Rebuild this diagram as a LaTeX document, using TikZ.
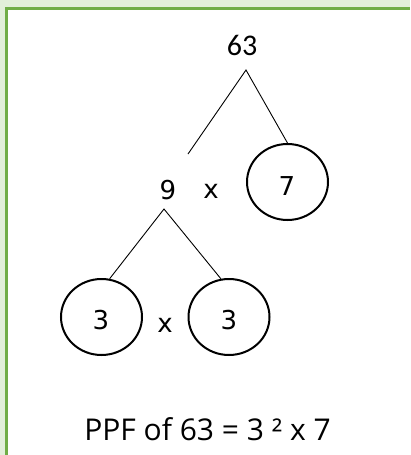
\documentclass[tikz,border=0pt]{standalone}
\usepackage{fontspec}
\usetikzlibrary{shapes.geometric}
\newfontfamily\numfont{DejaVu Sans}
\newfontfamily\topfont{Carlito}
\newfontfamily\ppffont{Open Sans}
\definecolor{bgGreen}{HTML}{E2EFDA}
\definecolor{lineGreen}{HTML}{70AD47}
\begin{document}
\begin{tikzpicture}[x=1pt,y=-1pt,
  branch/.style={line width=0.9pt, draw=black},
  primecirc/.style={draw, ellipse, line width=2pt, minimum width=81pt, minimum height=76pt, inner sep=0pt},
  num/.style={font=\numfont\fontsize{26}{30}\selectfont, anchor=base, inner sep=0pt},
  ]
\useasboundingbox (0,0) rectangle (410,455);
\fill[bgGreen] (0,0) rectangle (410,455);
\fill[white] (6,8) rectangle (410,455);
\draw[lineGreen, line width=2.8pt] (6.2,455) -- (6.2,8.3) -- (410,8.3);

\node[num, font=\topfont\fontsize{30}{34}\selectfont] (n63) at (242,55.5) {63};
\coordinate (top63) at (246,70);
\coordinate (end9) at (188,154);
\node[primecirc] (c7) at (287.5,182) {};
\node[num] (t7) at (287,195) {7};
\node[num] (n9) at (168,199) {9};
\node[num] (x1) at (211,198) {x};
\coordinate (top9) at (164,209);
\node[primecirc] (c3a) at (101.5,317) {};
\node[primecirc] (c3b) at (229,317) {};
\node[num] (t3a) at (101,329) {3};
\node[num] (t3b) at (229,329) {3};
\node[num] (x2) at (165,332) {x};
\draw[branch] (end9) -- (top63) -- (c7.north);
\draw[branch] (c3a.78) -- (top9) -- (c3b.102);
\node[anchor=base, inner sep=0pt, font=\ppffont\fontsize{30}{34}\selectfont] (ppf) at (207.5,440) {PPF of 63 = 3 ² x 7};
\end{tikzpicture}
\end{document}
